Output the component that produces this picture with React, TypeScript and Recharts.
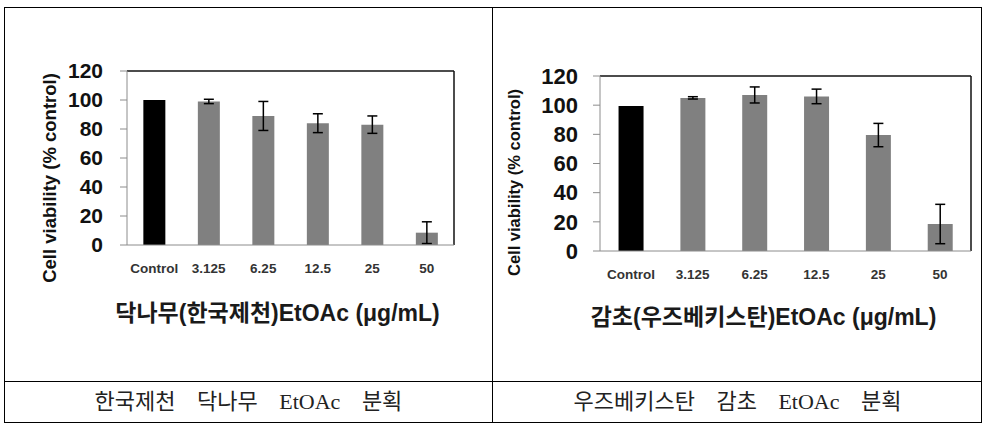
import { BarChart, Bar, XAxis, YAxis, Cell, ErrorBar, Label, CartesianGrid } from "recharts"

// dose categories shared by both panels
const doses = ["Control", "3.125", "6.25", "12.5", "25", "50"]
const yTicks = [0, 20, 40, 60, 80, 100, 120]

// 닥나무 (한국제천) EtOAc
const dakViability = [100, 99, 89, 84, 83, 8.5]
const dakError = [0, 1.5, 10, 6.5, 6, 7.5]

// 감초 (우즈베키스탄) EtOAc
const gamViability = [99.5, 105, 107, 106, 79.5, 18.5]
const gamError = [0, 0.8, 5.5, 5, 8, 13.5]

const captions = ["한국제천 닥나무 EtOAc 분획", "우즈베키스탄 감초 EtOAc 분획"]
const xTitles = ["닥나무(한국제천)EtOAc (μg/mL)", "감초(우즈베키스탄)EtOAc (μg/mL)"]
const yTitle = "Cell viability (% control)"

const toRows = (values: number[], errors: number[]) =>
    doses.map((dose, i) => ({ dose, value: values[i], err: errors[i] }))

const latin = "'Liberation Sans', Arial, sans-serif"
const korean = "'Liberation Sans', 'Noto Sans CJK KR', sans-serif"

interface PanelProps {
    rows: { dose: string, value: number, err: number }[]
    width: number
    height: number
    margin: { top: number, right: number, bottom: number, left: number }
    tickGap: number
    tickFont: number
    xTitle: string
    xTitleDx: number
    xTitleDy: number
    yTitleDx: number
    yTitleDy: number
    yTitleFont: number
}

function Panel({ rows, width, height, margin, tickGap, tickFont, xTitle, xTitleDx, xTitleDy, yTitleDx, yTitleDy, yTitleFont }: PanelProps) {
    return (
        <BarChart width={width} height={height} data={rows} margin={margin} barCategoryGap="30%">
            {/* plot frame: top and right edges */}
            <CartesianGrid
                stroke="#111"
                strokeWidth={1.5}
                horizontalCoordinatesGenerator={({ offset }: any) => [offset.top]}
                verticalCoordinatesGenerator={({ offset }: any) => [offset.left + offset.width]}
            />
            <XAxis
                dataKey="dose"
                height={30}
                tickLine={false}
                tickMargin={12}
                stroke="#8c8c8c"
                tick={{ fill: "#333", fontSize: 13.5, fontWeight: 700, fontFamily: latin }}
                interval={0}
            >
                <Label
                    content={({ viewBox }: any) => (
                        <text
                            x={viewBox.x + viewBox.width / 2 + xTitleDx}
                            y={viewBox.y + xTitleDy}
                            textAnchor="middle"
                            dominantBaseline="central"
                            fontSize={23}
                            fontWeight={700}
                            fontFamily={korean}
                            fill="#1a1a1a"
                        >
                            {xTitle}
                        </text>
                    )}
                />
            </XAxis>
            <YAxis
                domain={[0, 120]}
                ticks={yTicks}
                interval={0}
                width={65}
                tickSize={7}
                tickMargin={tickGap}
                stroke="#8c8c8c"
                tick={{ fill: "#111", fontSize: tickFont, fontWeight: 700, fontFamily: latin }}
            >
                <Label
                    content={({ viewBox }: any) => {
                        const cx = viewBox.x + yTitleDx
                        const cy = viewBox.y + viewBox.height / 2 + yTitleDy
                        return (
                            <text
                                x={cx}
                                y={cy}
                                transform={`rotate(-90, ${cx}, ${cy})`}
                                textAnchor="middle"
                                dominantBaseline="central"
                                fontSize={yTitleFont}
                                fontWeight={700}
                                fontFamily={latin}
                                fill="#111"
                            >
                                {yTitle}
                            </text>
                        )
                    }}
                />
            </YAxis>
            <Bar dataKey="value" isAnimationActive={false}>
                {rows.map((r, i) => (
                    <Cell key={r.dose} fill={i === 0 ? "#000" : "#808080"} />
                ))}
                <ErrorBar dataKey="err" width={5} stroke="#000" strokeWidth={1.5} direction="y" />
            </Bar>
        </BarChart>
    )
}

const line = "#000"

export default function App() {
    return (
        <div style={{ position: "absolute", left: 0, top: 0, width: 992, height: 430, background: "#fff" }}>
            <div style={{ position: "absolute", left: 0, top: 0 }}>
                <Panel
                    rows={toRows(dakViability, dakError)}
                    width={493}
                    height={380}
                    margin={{ top: 71, right: 39, bottom: 105, left: 62 }}
                    tickGap={17}
                    tickFont={21}
                    xTitle={xTitles[0]}
                    xTitleDx={-13}
                    xTitleDy={68}
                    yTitleDx={-13}
                    yTitleDy={20}
                    yTitleFont={18.5}
                />
            </div>
            <div style={{ position: "absolute", left: 493, top: 0 }}>
                <Panel
                    rows={toRows(gamViability, gamError)}
                    width={489}
                    height={380}
                    margin={{ top: 76, right: 11, bottom: 99, left: 42 }}
                    tickGap={15}
                    tickFont={22}
                    xTitle={xTitles[1]}
                    xTitleDx={-22}
                    xTitleDy={66}
                    yTitleDx={-21}
                    yTitleDy={19}
                    yTitleFont={16.5}
                />
            </div>

            {/* table rules */}
            <div style={{ position: "absolute", left: 4, top: 7, width: 978, height: 0, borderTop: `1.5px solid ${line}` }} />
            <div style={{ position: "absolute", left: 4, top: 381, width: 978, height: 0, borderTop: `1.5px solid ${line}` }} />
            <div style={{ position: "absolute", left: 4, top: 422, width: 978, height: 0, borderTop: `1.5px solid ${line}` }} />
            <div style={{ position: "absolute", left: 4, top: 7, width: 0, height: 416, borderLeft: `1.5px solid ${line}` }} />
            <div style={{ position: "absolute", left: 492, top: 7, width: 0, height: 416, borderLeft: `1.5px solid ${line}` }} />
            <div style={{ position: "absolute", left: 981, top: 7, width: 0, height: 416, borderLeft: `1.5px solid ${line}` }} />

            {captions.map((c, i) => (
                <div
                    key={c}
                    style={{
                        position: "absolute",
                        left: i === 0 ? 5 : 494,
                        width: 487,
                        top: 382,
                        height: 40,
                        lineHeight: "40px",
                        textAlign: "center",
                        fontFamily: "'Liberation Serif', 'Noto Sans CJK KR', serif",
                        fontSize: 22,
                        wordSpacing: 16,
                        color: "#222",
                    }}
                >
                    {c}
                </div>
            ))}
        </div>
    )
}
